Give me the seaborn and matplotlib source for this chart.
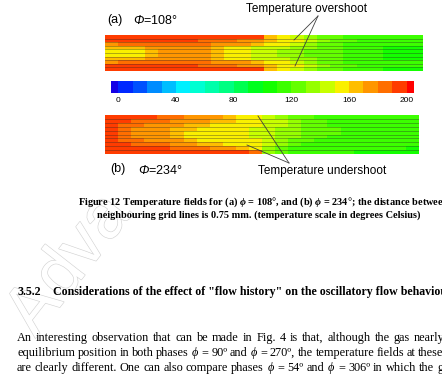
import numpy as np
import matplotlib
matplotlib.use('Agg')
import matplotlib.pyplot as plt
import matplotlib.patheffects as pe
from matplotlib.colors import ListedColormap
import seaborn as sns

W, H = 442, 388

# colour scale: one colour per 10 degC band (below 0, 0-10, ..., 190-200, above 200)
SCALE_COLORS = ['#1400e6', '#0028ff', '#0050ff', '#008cff', '#00beff', '#00f0ff',
                '#00ffd2', '#00ffaa', '#00ff82', '#00ff50', '#00ff1e', '#14ff00',
                '#3cff00', '#64ff00', '#96ff00', '#c8ff00', '#faf000', '#ffbe00',
                '#ff9600', '#ff6e00', '#ff3c00', '#ff0000']
SCALE_MIDS = [-5, 5, 15, 25, 35, 45, 55, 65, 75, 85, 95, 105,
              115, 125, 135, 145, 155, 165, 175, 185, 195, 205]
SCALE_TICKS = [0, 40, 80, 120, 160, 200]

# temperature field (degC), phase 108 deg, rows top -> bottom
FIELD_A = [
    [195, 195, 195, 195, 195, 195, 195, 195, 195, 195, 195, 195, 165, 155, 145, 135, 125, 125, 115, 115, 115, 115, 115, 115],
    [195, 195, 195, 195, 195, 195, 195, 185, 185, 185, 175, 175, 165, 155, 155, 145, 135, 125, 125, 115, 115, 115, 115, 115],
    [175, 185, 185, 185, 185, 185, 185, 185, 175, 175, 175, 165, 155, 155, 145, 135, 125, 125, 115, 115, 115, 115, 115, 115],
    [165, 165, 165, 175, 175, 175, 175, 175, 165, 155, 155, 145, 145, 145, 135, 135, 125, 125, 115, 115, 115, 105, 105, 105],
    [155, 155, 155, 165, 175, 175, 175, 175, 165, 155, 155, 145, 145, 135, 135, 125, 125, 125, 115, 115, 115, 105, 105, 105],
    [155, 155, 155, 165, 175, 175, 175, 175, 165, 155, 155, 145, 145, 135, 135, 125, 125, 125, 115, 115, 115, 105, 105, 105],
    [165, 165, 165, 175, 175, 175, 175, 175, 165, 155, 155, 145, 145, 145, 135, 135, 125, 125, 115, 115, 115, 105, 105, 105],
    [175, 185, 185, 185, 185, 185, 185, 185, 175, 175, 175, 165, 155, 155, 145, 135, 125, 125, 115, 115, 115, 115, 115, 115],
    [195, 195, 195, 195, 195, 195, 195, 185, 185, 185, 175, 175, 165, 155, 155, 145, 135, 125, 125, 115, 115, 115, 115, 115],
    [195, 195, 195, 195, 195, 195, 195, 195, 195, 195, 195, 195, 165, 155, 145, 135, 125, 125, 115, 115, 115, 105, 105, 105],
]

# temperature field (degC), phase 234 deg
FIELD_B = [
    [195, 195, 195, 195, 185, 185, 175, 175, 175, 165, 155, 155, 145, 135, 125, 125, 115, 115, 115, 115, 115, 115, 115, 115],
    [195, 195, 185, 185, 185, 175, 175, 175, 165, 165, 155, 155, 145, 145, 135, 125, 125, 115, 115, 115, 115, 115, 115, 115],
    [195, 185, 185, 175, 175, 175, 165, 165, 155, 155, 155, 155, 145, 145, 135, 125, 125, 115, 115, 115, 115, 115, 115, 115],
    [195, 185, 175, 175, 175, 165, 165, 155, 155, 155, 155, 145, 145, 135, 135, 125, 125, 125, 115, 115, 115, 115, 115, 115],
    [195, 185, 175, 175, 175, 165, 155, 155, 155, 155, 155, 145, 145, 135, 135, 125, 125, 125, 115, 115, 115, 115, 115, 115],
    [195, 185, 175, 175, 175, 165, 155, 155, 155, 155, 155, 145, 145, 135, 135, 125, 125, 115, 115, 115, 115, 115, 115, 115],
    [195, 185, 185, 175, 175, 175, 165, 155, 155, 155, 155, 155, 145, 135, 125, 125, 115, 115, 115, 115, 115, 115, 115, 115],
    [195, 195, 185, 185, 185, 175, 175, 165, 165, 155, 155, 155, 145, 135, 125, 115, 115, 115, 115, 115, 115, 115, 115, 115],
    [195, 195, 195, 195, 195, 185, 185, 185, 175, 175, 165, 155, 135, 125, 115, 115, 115, 115, 115, 115, 115, 115, 115, 105],
    [195, 195, 195, 195, 195, 195, 195, 195, 195, 195, 195, 185, 135, 125, 115, 115, 115, 115, 115, 105, 105, 105, 105, 105],
]

PARA_LINES = [
    ['An', 'interesting', 'observation', 'that', 'can', 'be', 'made', 'in', 'Fig.', '4', 'is',
     'that,', 'although', 'the', 'gas', 'nearly'],
    ['equilibrium', 'position', 'in', 'both', 'phases', '$\\phi$', '=', '90º', 'and', '$\\phi$',
     '=', '270º,', 'the', 'temperature', 'fields', 'at', 'these'],
    ['are', 'clearly', 'different.', 'One', 'can', 'also', 'compare', 'phases', '$\\phi$', '=',
     '54º', 'and', '$\\phi$', '=', '306º', 'in', 'which', 'the', 'gas'],
]

SANS = ['Liberation Sans', 'DejaVu Sans']
SERIF = ['Liberation Serif', 'DejaVu Serif']

plt.rcParams['mathtext.fontset'] = 'custom'
plt.rcParams['mathtext.rm'] = 'Liberation Serif'
plt.rcParams['mathtext.it'] = 'Liberation Serif:italic'
plt.rcParams['mathtext.bfit'] = 'Liberation Serif:italic:bold'
plt.rcParams['mathtext.sf'] = 'Liberation Sans:italic'

cmap = ListedColormap(SCALE_COLORS)
fig = plt.figure(figsize=(W / 100, H / 100), dpi=100)
fig.patch.set_facecolor('white')


def add_axes(x0, y0, x1, y1):
    return fig.add_axes([x0 / W, 1 - y1 / H, (x1 - x0) / W, (y1 - y0) / H])


def field_panel(field, box):
    ax = add_axes(*box)
    sns.heatmap(np.array(field), cmap=cmap, vmin=-10, vmax=210, cbar=False,
                xticklabels=False, yticklabels=False, ax=ax)
    for y in range(1, len(field)):
        ax.axhline(y, color='0.15', lw=0.45, alpha=0.55)
    for s in ax.spines.values():
        s.set_visible(False)
    return ax


field_panel(FIELD_A, (105, 35, 423, 71))
field_panel(FIELD_B, (105, 115, 419, 154))

# colour scale bar
cax = add_axes(111, 81, 414, 93)
sns.heatmap(np.array([SCALE_MIDS]), cmap=cmap, vmin=-10, vmax=210, cbar=False,
            xticklabels=False, yticklabels=False, ax=cax)
cax.set_xlim(0.5, len(SCALE_MIDS) - 0.5)
cax.set_xticks([1 + t / 10 for t in SCALE_TICKS])
cax.set_xticklabels([str(t) for t in SCALE_TICKS], fontsize=6, family=SANS)
cax.tick_params(axis='x', length=0, pad=3)
for s in cax.spines.values():
    s.set_visible(False)

# overlay in pixel coordinates for labels, leaders and page text
ov = fig.add_axes([0, 0, 1, 1], facecolor='none')
ov.set_xlim(0, W)
ov.set_ylim(H, 0)
ov.axis('off')
renderer = fig.canvas.get_renderer()


def justify(words, x0, x_last, y, **kw):
    # spread the words so the first starts at x0 and the last at x_last
    texts = [ov.text(0, y, w, ha='left', va='center', **kw) for w in words]
    widths = [t.get_window_extent(renderer).width for t in texts]
    gap = (x_last - x0 - sum(widths[:-1])) / (len(words) - 1)
    x = x0
    for t, w in zip(texts, widths):
        t.set_x(x)
        x += w + gap


# watermark
ov.text(-4, 333, 'Adva', fontsize=50, family=SANS, rotation=52, color='white',
        ha='left', va='baseline', zorder=0,
        path_effects=[pe.Stroke(linewidth=0.9, foreground='#d4d4d4'), pe.Normal()])

ov.text(107, 20, '(a)', fontsize=9, family=SANS, va='center', ha='left')
ov.text(133, 21, '$\\mathsf{\\Phi}$=108°', fontsize=9, family=SANS, va='center', ha='left')
ov.text(110, 169, '(b)', fontsize=9, family=SANS, va='center', ha='left')
ov.text(138, 170, '$\\mathsf{\\Phi}$=234°', fontsize=9, family=SANS, va='center', ha='left')

ov.text(306, 9, 'Temperature overshoot', fontsize=8.5, family=SANS, ha='center', va='center')
ov.plot([318, 294], [16, 40], color='0.25', lw=0.6)
ov.plot([318, 295], [16, 66], color='0.25', lw=0.6)

ov.text(322, 171, 'Temperature undershoot', fontsize=8.5, family=SANS, ha='center', va='center')
ov.plot([289, 258], [163, 116], color='0.25', lw=0.6)
ov.plot([289, 247], [163, 145], color='0.25', lw=0.6)

ov.text(78, 202, 'Figure 12 Temperature fields for (a) $\\boldsymbol{\\phi}$ = 108°, and (b) '
        '$\\boldsymbol{\\phi}$ = 234°; the distance between',
        fontsize=7.4, family=SERIF, weight='bold', ha='left', va='center')
ov.text(97, 215, 'neighbouring grid lines is 0.75 mm. (temperature scale in degrees Celsius)',
        fontsize=7.4, family=SERIF, weight='bold', ha='left', va='center')

ov.text(17, 292, '3.5.2', fontsize=8.6, family=SERIF, weight='bold', ha='left', va='center')
ov.text(53, 292, 'Considerations of the effect of "flow history" on the oscillatory flow behaviour',
        fontsize=8.6, family=SERIF, weight='bold', ha='left', va='center')

for words, x_last, y in zip(PARA_LINES, [414, 418, 437], [338, 353, 368]):
    justify(words, 17, x_last, y, fontsize=8.8, family=SERIF)

plt.savefig('out.png', dpi=100)
